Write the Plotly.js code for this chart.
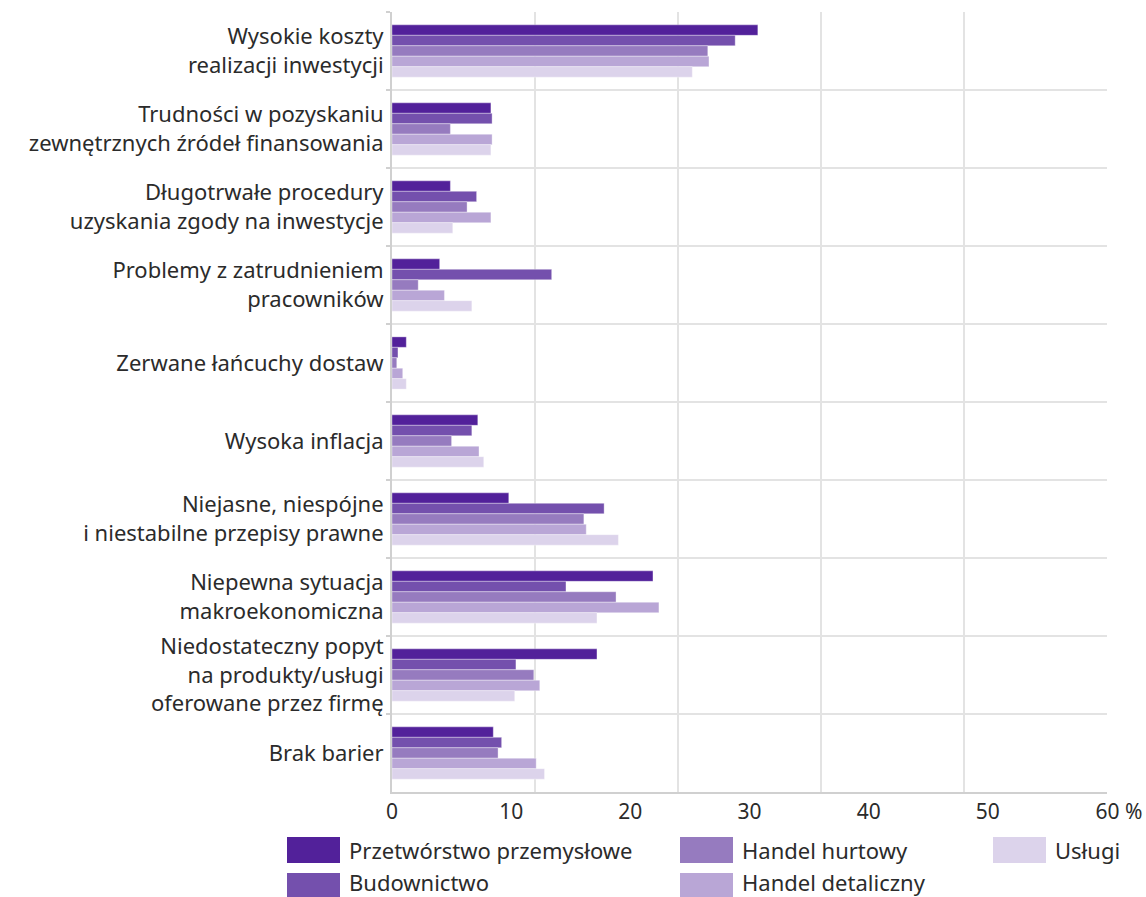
<!DOCTYPE html>
<html>
<head>
<meta charset="utf-8">
<script src="https://cdn.plot.ly/plotly-3.0.1.min.js"></script>
<style>html,body{margin:0;padding:0;background:#fff;}</style>
</head>
<body>
<div id="chart" style="width:1146px;height:897px;"></div>
<script>
const categories = [
  "Wysokie koszty<br>realizacji inwestycji",
  "Trudności w pozyskaniu<br>zewnętrznych źródeł finansowania",
  "Długotrwałe procedury<br>uzyskania zgody na inwestycje",
  "Problemy z zatrudnieniem<br>pracowników",
  "Zerwane łańcuchy dostaw",
  "Wysoka inflacja",
  "Niejasne, niespójne<br>i niestabilne przepisy prawne",
  "Niepewna sytuacja<br>makroekonomiczna",
  "Niedostateczny popyt<br>na produkty/usługi<br>oferowane przez firmę",
  "Brak barier"
];
const seriesNames = ["Przetwórstwo przemysłowe", "Budownictwo", "Handel hurtowy", "Handel detaliczny", "Usługi"];
const przetworstwo = [30.7, 8.3, 4.9, 4.0, 1.2, 7.2, 9.8, 21.9, 17.2, 8.5];
const budownictwo  = [28.8, 8.4, 7.1, 13.4, 0.5, 6.7, 17.8, 14.6, 10.4, 9.2];
const handelHurtowy = [26.5, 4.9, 6.3, 2.2, 0.4, 5.0, 16.1, 18.8, 11.9, 8.9];
const handelDetaliczny = [26.6, 8.4, 8.3, 4.4, 0.9, 7.3, 16.3, 22.4, 12.4, 12.1];
const uslugi = [25.2, 8.3, 5.1, 6.7, 1.2, 7.7, 19.0, 17.2, 10.3, 12.8];
const xTickVals = [0, 10, 20, 30, 40, 50, 60];
const xTickText = ["0", "10", "20", "30", "40", "50", "\u2007\u200760 %"];
const xGridVals = [12, 24, 36, 48, 60];

const seriesValues = [przetworstwo, budownictwo, handelHurtowy, handelDetaliczny, uslugi];
const colors = ["#52219a", "#7450ad", "#967bbf", "#b9a6d6", "#dcd3eb"];
const FONT = "Noto Sans, Open Sans, sans-serif";
const TXT = "#2b2b2b";

const traces = seriesNames.map((name, i) => ({
  type: "bar",
  orientation: "h",
  name: name,
  y: categories,
  x: seriesValues[i],
  marker: {color: colors[i], line: {color: "rgba(255,255,255,0.35)", width: 1}},
  showlegend: false,
  hoverinfo: "x+name"
}));

// plot area in pixels
const W = 1146, H = 897, ML = 392, MR = 39, MT = 12, MB = 105;
const PW = W - ML - MR, PH = H - MT - MB;
const px2x = p => (p - ML) / PW;
const py2y = p => (H - MB - p) / PH;

// custom legend (column-major layout like the reference)
const legendCols = [287, 680, 993];
const swatchRows = [850, 886];
const textRows = [850, 882];
const legendPos = [[0,0],[0,1],[1,0],[1,1],[2,0]];
const shapes = [];
const annotations = [];
seriesNames.forEach((name, i) => {
  const [c, r] = legendPos[i];
  const x0 = legendCols[c];
  shapes.push({type: "rect", xref: "paper", yref: "paper",
    x0: px2x(x0), x1: px2x(x0 + 53), y0: py2y(swatchRows[r] + 13), y1: py2y(swatchRows[r] - 13),
    fillcolor: colors[i], line: {width: 0}});
  annotations.push({xref: "paper", yref: "paper", x: px2x(x0 + 61), y: py2y(textRows[r]),
    xanchor: "left", yanchor: "middle", text: name, showarrow: false, borderpad: 0,
    font: {family: FONT, size: 22, color: TXT}});
});

const layout = {
  width: W, height: H,
  margin: {l: ML, r: MR, t: MT, b: MB, pad: 0},
  paper_bgcolor: "#fff", plot_bgcolor: "#fff",
  barmode: "group", bargap: 0.33, bargroupgap: 0,
  font: {family: FONT, size: 20, color: TXT},
  xaxis: {
    range: [0, 60], tickmode: "array", tickvals: xTickVals, ticktext: xTickText,
    showgrid: false, zeroline: false, showline: true, linecolor: "#d0d0d0", linewidth: 2,
    ticks: "", tickfont: {family: FONT, size: 21, color: TXT},
    minor: {tickmode: "array", tickvals: xGridVals, showgrid: true, gridcolor: "#e3e3e3", gridwidth: 1.5, ticks: ""},
    fixedrange: true
  },
  yaxis: {
    type: "category", autorange: "reversed", tickson: "boundaries",
    showgrid: true, gridcolor: "#e3e3e3", gridwidth: 1.5,
    showline: true, linecolor: "#d0d0d0", linewidth: 2,
    ticks: "outside", ticklen: 4, tickcolor: "#d0d0d0", tickwidth: 2,
    ticklabelstandoff: 2,
    tickfont: {family: FONT, size: 22, color: TXT},
    fixedrange: true
  },
  shapes: shapes,
  annotations: annotations,
  showlegend: false
};

Plotly.newPlot("chart", traces, layout, {displayModeBar: false, staticPlot: true});
</script>
</body>
</html>
